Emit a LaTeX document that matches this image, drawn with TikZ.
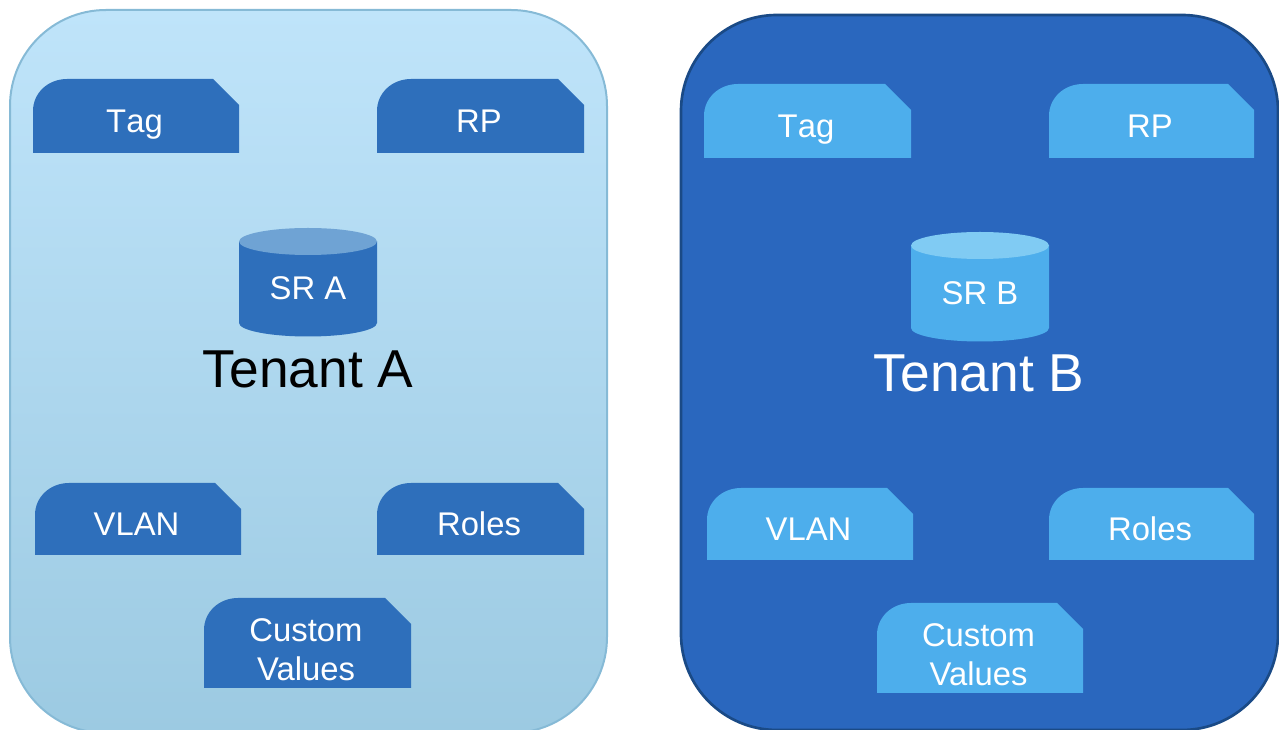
\documentclass[tikz,border=0pt]{standalone}
\usepackage{fontspec}
\setmainfont{Liberation Sans}
\definecolor{panelTopA}{HTML}{BFE4FA}
\definecolor{panelBotA}{HTML}{9CCAE2}
\definecolor{borderA}{HTML}{86BAD6}
\definecolor{panelB}{HTML}{2A67BE}
\definecolor{borderB}{HTML}{1A4A86}
\definecolor{tabA}{HTML}{2E6FBB}
\definecolor{tabB}{HTML}{4DAEEC}
\definecolor{capA}{HTML}{6FA3D4}
\definecolor{capB}{HTML}{80CBF3}
\tikzset{
  x=0.75pt,y=-0.75pt,
  tablabel/.style={text=white,font=\fontsize{24.6}{29}\selectfont,align=center,inner sep=0pt},
  dblabel/.style={text=white,font=\fontsize{24.6}{29}\selectfont,inner sep=0pt},
  tenantlabel/.style={font=\fontsize{40}{48}\selectfont,inner sep=0pt},
}
% name, left, top, right, bottom, fill, text, text y
\newcommand\tabbox[8]{%
  \fill[#6] (#2,#5) -- (#2,#3+32) .. controls (#2,#3+14) and (#2+15,#3) .. (#2+34,#3) -- (#4-26,#3) -- (#4,#3+26) -- (#4,#5) -- cycle;
  \node[tablabel] (#1) at ({(#2+#4)/2-1.5},#8) {#7};
}
% name, left, right, capcentre y, bottom ellipse y, body, cap, text, text y
\newcommand\dbcyl[9]{%
  \fill[#6] (#2,#4) -- (#2,#5) arc[start angle=180,end angle=0,x radius={(#3-#2)/2},y radius=13.5] -- (#3,#4) -- cycle;
  \fill[#7] ({(#2+#3)/2},#4) ellipse[x radius={(#3-#2)/2},y radius=13.5];
  \node[dblabel] (#1) at ({(#2+#3)/2},#9) {#8};
}
\newcommand\tagword{{\addfontfeature{Kerning=Off}Tag}}
\begin{document}
\begin{tikzpicture}
\useasboundingbox (0,0) rectangle (1279,730);
\begin{scope}
\clip (0,0) rectangle (1279,730);
% Tenant A panel
\path[draw=borderA,line width=1.5pt,top color=panelTopA,bottom color=panelBotA,rounded corners=72pt]
  (10,10) rectangle (607,733);
% Tenant B panel
\path[draw=borderB,line width=2pt,fill=panelB,rounded corners=72pt]
  (681,15) rectangle (1278,730);
\end{scope}
% Tenant A contents
\tabbox{tagA}{33}{79}{239}{153}{tabA}{\tagword}{125}
\tabbox{rpA}{377}{79}{584}{153}{tabA}{RP}{121}
\tabbox{vlanA}{35}{483}{241}{555}{tabA}{VLAN}{524}
\tabbox{rolesA}{377}{483}{584}{555}{tabA}{Roles}{524}
\tabbox{customA}{204}{598}{411}{688}{tabA}{Custom\\Values}{650}
\dbcyl{srA}{239}{377}{241.5}{323}{tabA}{capA}{SR A}{288}
\node[tenantlabel,text=black] (tenantA) at (308,369) {Tenant A};
% Tenant B contents
\tabbox{tagB}{704}{84}{911}{158}{tabB}{\tagword}{130}
\tabbox{rpB}{1049}{84}{1254}{158}{tabB}{RP}{126}
\tabbox{vlanB}{707}{488}{913}{560}{tabB}{VLAN}{529}
\tabbox{rolesB}{1049}{488}{1254}{560}{tabB}{Roles}{529}
\tabbox{customB}{877}{603}{1083}{693}{tabB}{Custom\\Values}{655}
\dbcyl{srB}{911}{1049}{245.5}{328}{tabB}{capB}{SR B}{293}
\node[tenantlabel,text=white] (tenantB) at (979,373) {Tenant B};
\end{tikzpicture}
\end{document}
